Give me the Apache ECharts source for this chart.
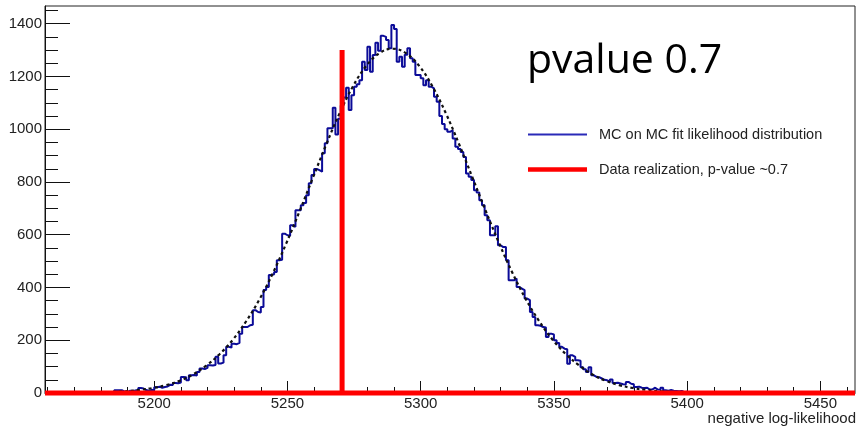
<!DOCTYPE html>
<html>
<head>
<meta charset="utf-8">
<script src="https://cdn.jsdelivr.net/npm/echarts@6/dist/echarts.min.js"></script>
<style>
html,body{margin:0;padding:0;background:#fff;}
#chart{width:858px;height:429px;}
</style>
</head>
<body>
<div id="chart"></div>
<script>
// ---- data ----
const binStart = 5184;
const binWidth = 1;
const counts = [
  2,10,10,10,5,4,9,8,10,9,
  19,17,11,9,12,10,22,24,20,23,
  25,31,30,38,37,40,61,60,48,67,
  68,66,80,93,91,95,105,104,106,137,
  112,115,143,175,172,187,185,190,225,250,
  250,257,259,314,307,305,326,390,402,447,
  450,459,503,505,604,598,596,636,630,693,
  693,712,720,750,795,826,849,845,839,909,
  947,1004,1004,1081,980,1040,1090,1120,1157,1073,
  1129,1161,1170,1186,1256,1224,1313,1218,1281,1328,
  1297,1354,1350,1338,1307,1395,1380,1256,1275,1237,
  1282,1307,1269,1256,1205,1205,1193,1167,1186,1161,
  1155,1123,1104,1050,1020,1000,990,996,965,933,
  925,914,895,832,820,807,769,760,731,712,
  674,655,598,598,632,560,553,553,503,427,
  427,434,402,396,390,358,352,307,288,257,
  255,250,248,212,225,222,200,190,175,168,
  166,111,143,137,124,122,98,90,80,98,
  67,61,60,55,50,48,42,51,38,39,
  36,33,32,42,35,33,23,24,20,19,
  20,13,14,20,13,12,20,10,9,11,
  9,8,7,8,3,5,2,4,1
];
const fitX = [5184.5,5189.5,5194.5,5199.5,5204.5,5209.5,5214.5,5219.5,5224.5,5229.5,
  5234.5,5239.5,5244.5,5249.5,5254.5,5259.5,5264.5,5269.5,5274.5,5279.5,5284.5,5289.5,
  5294.5,5299.5,5304.5,5309.5,5314.5,5319.5,5324.5,5329.5,5334.5,5339.5,5344.5,5349.5,
  5354.5,5359.5,5364.5,5369.5,5374.5,5379.5,5384.5,5389.5,5394.5,5399.5];
const fitY = [4,7,12,19,30,46,70,104,147,202,
  272,355,454,566,688,815,941,1059,1161,1239,1288,1305,
  1288,1239,1161,1059,941,815,688,566,454,355,272,202,
  147,104,70,46,30,19,12,7,4,2];
const dataValue = 5270.5;
const dataHeight = 1300;
const xRange = [5159, 5463];
const yRange = [0, 1467];
const xMajorTicks = [5200,5250,5300,5350,5400,5450];
const xMinorTicks = [5160,5170,5180,5190,5200,5210,5220,5230,5240,5250,5260,5270,5280,5290,5300,5310,5320,5330,5340,5350,5360,5370,5380,5390,5400,5410,5420,5430,5440,5450,5460];
const yMajorTicks = [0,200,400,600,800,1000,1200,1400];
const yMinorTicks = [0,50,100,150,200,250,300,350,400,450,500,550,600,650,700,750,800,850,900,950,1000,1050,1100,1150,1200,1250,1300,1350,1400,1450];
const seriesNames = ['MC on MC fit likelihood distribution', 'Data realization, p-value ~0.7'];
const xTitle = 'negative log-likelihood';
const bigNote = 'pvalue 0.7';

// ---- build ----
const histData = [[binStart, 0]];
counts.forEach((c, i) => histData.push([binStart + i * binWidth, c]));
const endEdge = binStart + counts.length * binWidth;
histData.push([endEdge, counts[counts.length - 1]]);
histData.push([endEdge, 0]);
const fitData = fitX.map((x, i) => [x, fitY[i]]);
const dataLine = [[xRange[0], 0], [dataValue, 0], [dataValue, dataHeight], [dataValue, 0], [xRange[1], 0]];

const FONT = 'Liberation Sans, Arial, Helvetica, sans-serif';
const plain = v => String(v);
const chart = echarts.init(document.getElementById('chart'), null, {renderer: 'canvas'});
chart.setOption({
  animation: false,
  backgroundColor: '#ffffff',
  textStyle: {fontFamily: FONT},
  grid: {left: 45, right: 3, top: 6, bottom: 36, show: true, borderColor: '#222', borderWidth: 1, backgroundColor: 'transparent'},
  legend: {
    data: [
      {name: seriesNames[0], icon: 'path://M0 0H59V2H0Z'},
      {name: seriesNames[1], icon: 'path://M0 0H59V4.5H0Z'}
    ],
    orient: 'vertical',
    left: 528, top: 127, padding: 0,
    itemWidth: 59, itemHeight: 14, itemGap: 20,
    symbolKeepAspect: true,
    textStyle: {fontSize: 14.5, color: '#222', fontFamily: FONT, padding: [0, 0, 0, 7]},
    selectedMode: false
  },
  xAxis: [{
    type: 'value', min: xRange[0], max: xRange[1], position: 'bottom',
    axisLine: {show: true, onZero: false, lineStyle: {color: '#111', width: 1}},
    axisTick: {show: true, inside: true, length: 12, customValues: xMajorTicks, lineStyle: {color: '#111', width: 1}},
    axisLabel: {show: true, customValues: xMajorTicks, formatter: plain, margin: 3, fontSize: 15, color: '#222', fontFamily: FONT},
    splitLine: {show: false}
  }, {
    type: 'value', min: xRange[0], max: xRange[1], position: 'bottom',
    axisLine: {show: false},
    axisTick: {show: true, inside: true, length: 6, customValues: xMinorTicks, lineStyle: {color: '#111', width: 1}},
    axisLabel: {show: false},
    splitLine: {show: false}
  }],
  yAxis: [{
    type: 'value', min: yRange[0], max: yRange[1], position: 'left',
    axisLine: {show: true, onZero: false, lineStyle: {color: '#111', width: 1}},
    axisTick: {show: true, inside: true, length: 25, customValues: yMajorTicks, lineStyle: {color: '#111', width: 1}},
    axisLabel: {show: true, customValues: yMajorTicks, formatter: plain, margin: 3, fontSize: 15, color: '#222', fontFamily: FONT},
    splitLine: {show: false}
  }, {
    type: 'value', min: yRange[0], max: yRange[1], position: 'left',
    axisLine: {show: false},
    axisTick: {show: true, inside: true, length: 13, customValues: yMinorTicks, lineStyle: {color: '#111', width: 1}},
    axisLabel: {show: false},
    splitLine: {show: false}
  }],
  series: [{
    name: seriesNames[0], type: 'line', step: 'end', data: histData,
    xAxisIndex: 0, yAxisIndex: 0, symbol: 'none',
    lineStyle: {color: '#0b0b98', width: 2}, itemStyle: {color: '#2a2ab8'}, z: 2
  }, {
    name: 'fit', type: 'line', smooth: 0.4, data: fitData,
    xAxisIndex: 0, yAxisIndex: 0, symbol: 'none', silent: true,
    lineStyle: {color: '#111', width: 2.2, type: [3, 3]}, itemStyle: {color: '#111'}, z: 3
  }, {
    name: seriesNames[1], type: 'line', data: dataLine, clip: false,
    xAxisIndex: 0, yAxisIndex: 0, symbol: 'none',
    lineStyle: {color: '#ff0000', width: 5, cap: 'butt', join: 'miter'}, itemStyle: {color: '#ff0000'}, z: 4
  }],
  graphic: [{
    type: 'text',
    x: 856, y: 419,
    style: {text: xTitle, font: '15px ' + FONT, fill: '#222', align: 'right', verticalAlign: 'middle'}
  }, {
    type: 'text',
    x: 527, y: 61,
    style: {text: bigNote, font: '41px "Open Sans", "Noto Sans", sans-serif', fill: '#000', align: 'left', verticalAlign: 'middle'}
  }]
});
</script>
</body>
</html>
